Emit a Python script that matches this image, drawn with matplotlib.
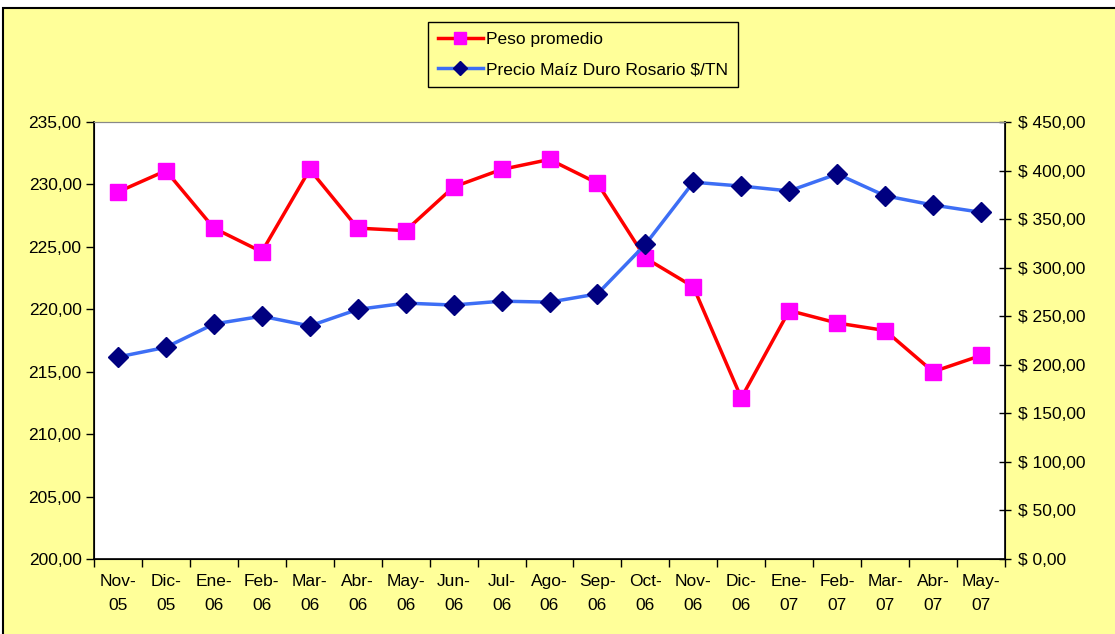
import matplotlib
matplotlib.use("Agg")
import matplotlib.pyplot as plt
from matplotlib.patches import Rectangle
from matplotlib.ticker import FixedLocator, FuncFormatter

# ---------- Datos ---------- #
meses = ["Nov-\n05", "Dic-\n05", "Ene-\n06", "Feb-\n06", "Mar-\n06", "Abr-\n06",
         "May-\n06", "Jun-\n06", "Jul-\n06", "Ago-\n06", "Sep-\n06", "Oct-\n06",
         "Nov-\n06", "Dic-\n06", "Ene-\n07", "Feb-\n07", "Mar-\n07", "Abr-\n07",
         "May-\n07"]
peso_promedio = [229.4, 231.1, 226.5, 224.6, 231.2, 226.5, 226.3, 229.8, 231.2,
                 232.0, 230.1, 224.1, 221.8, 212.9, 219.9, 218.9, 218.3, 215.0,
                 216.3]
precio_maiz = [208, 218, 242, 250, 240, 257, 263.5, 261.5, 265.5, 264.5, 273,
               324, 388, 384, 379, 396.5, 374, 364.5, 357]

plt.rcParams["font.family"] = ["Liberation Sans", "DejaVu Sans"]
plt.rcParams["font.size"] = 12

fig = plt.figure(figsize=(11.15, 6.34), dpi=100)
fig.patch.set_facecolor("white")

# fondo amarillo con borde negro
fig.patches.append(Rectangle((3 / 1115, -0.02), 1.0, 1 - 8 / 634 + 0.02,
                             transform=fig.transFigure, facecolor="#FFFF99",
                             edgecolor="black", linewidth=1.5, zorder=-10))

ax = fig.add_axes([94 / 1115, 1 - 559 / 634, 911 / 1115, 437 / 634])
ax.set_facecolor("white")
x = list(range(len(meses)))

l1, = ax.plot(x, peso_promedio, color="#FF0000", linewidth=2.5,
              marker="s", markersize=12, markerfacecolor="#FF00FF",
              markeredgecolor="#FF00FF", label="Peso promedio", zorder=3)
ax.set_ylim(200, 235)
ax.set_yticks(range(200, 236, 5))
ax.yaxis.set_major_formatter(FuncFormatter(lambda v, p: f"{v:.2f}".replace(".", ",")))
ax.set_xlim(-0.5, len(meses) - 0.5)
ax.xaxis.set_major_locator(FixedLocator([i - 0.5 for i in range(len(meses) + 1)]))
ax.xaxis.set_major_formatter(FuncFormatter(lambda v, p: ""))
ax.xaxis.set_minor_locator(FixedLocator(x))
ax.set_xticklabels(meses, minor=True)
ax.tick_params(axis="x", which="major", length=6, width=1, direction="out")
ax.tick_params(axis="x", which="minor", length=0, pad=11, labelsize=12.5)
ax.tick_params(axis="y", length=6, width=1, direction="out", pad=3,
               labelsize=12.5)
for lab in ax.get_xticklabels(minor=True):
    lab.set_linespacing(1.75)

for s in ["left", "bottom"]:
    ax.spines[s].set_color("black")
    ax.spines[s].set_linewidth(1.2)
ax.spines["top"].set_color("#888888")
ax.spines["right"].set_color("black")

ax2 = ax.twinx()
l2, = ax2.plot(x, precio_maiz, color="#3D6EF5", linewidth=2.5,
               marker="D", markersize=10, markerfacecolor="#000080",
               markeredgecolor="#000080", label="Precio Maíz Duro Rosario $/TN",
               zorder=3)
ax2.set_ylim(0, 450)
ax2.set_yticks(range(0, 451, 50))
ax2.yaxis.set_major_formatter(FuncFormatter(lambda v, p: "$ " + f"{v:.2f}".replace(".", ",")))
ax2.tick_params(axis="y", length=9, width=1, direction="inout", pad=5,
                labelsize=12.5)
ax2.spines["right"].set_color("black")
ax2.spines["right"].set_linewidth(1.2)
ax2.spines["top"].set_color("#888888")

leg = fig.legend(handles=[l1, l2], loc="upper center",
                 bbox_to_anchor=(583 / 1115, 1 - 22 / 634), frameon=True,
                 fancybox=False, facecolor="#FFFF99", edgecolor="black",
                 framealpha=1, fontsize=12.5, handlelength=2.6, markerscale=0.7,
                 handletextpad=0.2, borderpad=0.55, labelspacing=0.9,
                 borderaxespad=0)
leg.get_frame().set_linewidth(1.0)

fig.savefig("out.png", dpi=100, facecolor=fig.get_facecolor())
